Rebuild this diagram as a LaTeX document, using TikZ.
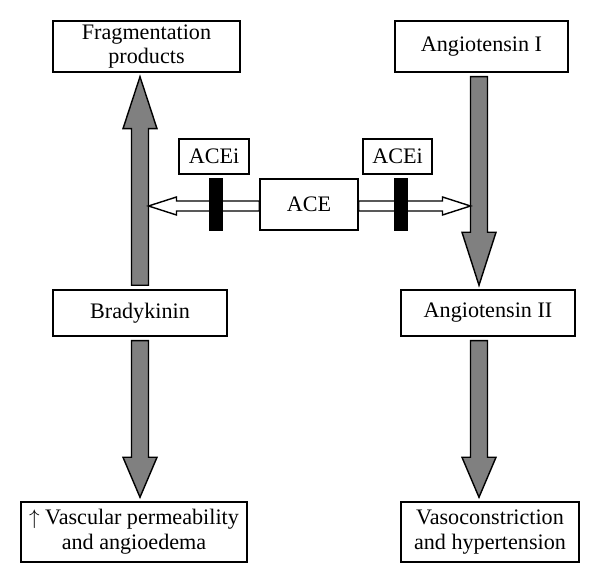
\documentclass[tikz,border=0pt]{standalone}
\usepackage{fontspec}
\setmainfont{Liberation Serif}
\usetikzlibrary{calc, positioning}

% block arrow: style, from, to, head length, shaft half width, head half width
\newcommand{\blockarrow}[6]{%
  \coordinate (ba-s) at #2;
  \coordinate (ba-e) at #3;
  \coordinate (ba-h) at ($(ba-e)!#4!(ba-s)$);
  \filldraw[#1] ($(ba-s)!#5!90:(ba-e)$) -- ($(ba-h)!#5!-90:(ba-s)$) -- ($(ba-h)!#6!-90:(ba-s)$)
    -- (ba-e) -- ($(ba-h)!#6!90:(ba-s)$) -- ($(ba-h)!#5!90:(ba-s)$) -- ($(ba-s)!#5!-90:(ba-e)$) -- cycle;}

\begin{document}
\begin{tikzpicture}[
  box/.style={draw, line width=0.8pt, inner sep=2pt, align=center,
    font=\fontsize{12.6}{14}\selectfont},
  fatarr/.style={fill=gray, draw=black, line width=0.8pt},
  hollowarr/.style={fill=white, draw=black, line width=0.8pt},
  blocker/.style={fill=black, draw=black, minimum width=0.26cm, minimum height=1.04cm, inner sep=0pt}]
  \useasboundingbox (0,0) rectangle (12,11.66);

  % Top row
  \node[box, minimum width=3.74cm, minimum height=1.02cm] (frag) at (2.93,10.73) {Fragmentation\\products};
  \node[box, minimum width=3.46cm, minimum height=1.02cm] (ang1) at (9.63,10.73) {Angiotensin I};

  % Middle row
  \node[box, minimum width=3.48cm, minimum height=0.92cm] (brady) at (2.80,5.40) {Bradykinin};
  \node[box, minimum width=3.48cm, minimum height=0.92cm] (ang2) at (9.76,5.40) {Angiotensin II};

  % Bottom row
  \node[box, minimum width=4.52cm, minimum height=1.20cm] (vasc) at (2.68,1.02) {$\uparrow$ Vascular permeability\\and angioedema};
  \node[box, minimum width=3.56cm, minimum height=1.20cm] (vaso) at (9.80,1.02) {Vasoconstriction\\and hypertension};

  % Enzyme and inhibitors
  \node[box, minimum width=1.96cm, minimum height=1.02cm] (ace) at (6.18,7.57) {ACE};
  \node[box, minimum width=1.40cm, minimum height=0.70cm] (aceiL) at (4.28,8.53) {ACEi};
  \node[box, minimum width=1.38cm, minimum height=0.70cm] (aceiR) at (7.95,8.53) {ACEi};

  % Pathway arrows
  \blockarrow{fatarr}{($(brady.north)+(0,0.08)$)}{($(brady.north |- frag.south)+(0,-0.08)$)}{1.04cm}{0.17cm}{0.34cm}
  \blockarrow{fatarr}{($(ang1.south)+(-0.05,-0.08)$)}{($(ang1.south |- ang2.north)+(-0.05,0.08)$)}{1.06cm}{0.17cm}{0.34cm}
  \blockarrow{fatarr}{($(brady.south)+(0,-0.08)$)}{($(brady.south |- vasc.north)+(0,0.08)$)}{0.80cm}{0.17cm}{0.34cm}
  \blockarrow{fatarr}{($(ang2.south -| ang1.south)+(-0.05,-0.08)$)}{($(ang1.south |- vaso.north)+(-0.05,0.08)$)}{0.80cm}{0.17cm}{0.34cm}

  % ACE acting on both substrates
  \blockarrow{hollowarr}{($(ace.west)+(0,-0.03)$)}{($(ace.west -| brady.north)+(0.17,-0.03)$)}{0.56cm}{0.10cm}{0.18cm}
  \blockarrow{hollowarr}{($(ace.east)+(0,-0.03)$)}{($(ace.east -| ang1.south)+(-0.22,-0.03)$)}{0.56cm}{0.10cm}{0.18cm}

  % Inhibition bars
  \node[blocker] (barL) at (4.31,7.58) {};
  \node[blocker] (barR) at (8.01,7.58) {};
\end{tikzpicture}
\end{document}
